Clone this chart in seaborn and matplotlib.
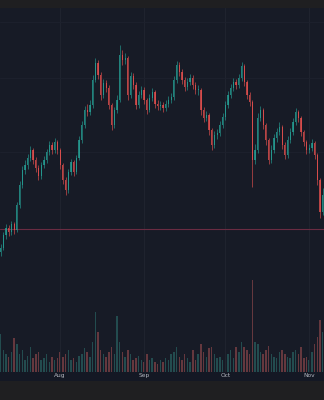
import numpy as np
import pandas as pd
import matplotlib
matplotlib.use("Agg")
import matplotlib.pyplot as plt
import matplotlib.dates as mdates
from matplotlib.patches import Rectangle
import seaborn as sns

# ---------------- data (daily candles) ----------------
start_date = "2023-07-10"
opens = [148, 152, 165, 172, 168, 176, 170, 195, 215, 230, 235, 242, 250, 240, 232, 224, 235, 240, 248, 255,
         250, 258, 250, 235, 220, 210, 228, 238, 228, 242, 260, 275, 290, 288, 295, 320, 337, 325, 305, 317,
         312, 295, 275, 290, 300, 345, 340, 342, 305, 324, 315, 295, 305, 310, 300, 290, 302, 308, 296, 294,
         295, 292, 296, 300, 303, 320, 335, 328, 320, 313, 318, 322, 315, 310, 310, 290, 282, 285, 270, 255,
         265, 267, 275, 283, 295, 305, 312, 318, 315, 322, 334, 318, 305, 298, 240, 250, 282, 290, 275, 260,
         240, 250, 262, 268, 273, 255, 245, 260, 268, 278, 288, 282, 268, 258, 250, 252, 257, 245, 220, 188]
closes = [152, 165, 172, 168, 176, 170, 195, 215, 230, 235, 242, 250, 240, 232, 224, 235, 240, 248, 255, 250,
          258, 250, 235, 220, 210, 228, 238, 228, 242, 260, 275, 290, 288, 295, 320, 337, 325, 305, 317, 312,
          295, 275, 290, 300, 345, 340, 342, 305, 324, 315, 295, 305, 310, 300, 290, 302, 308, 296, 294, 295,
          292, 296, 300, 303, 320, 335, 328, 320, 313, 318, 322, 315, 310, 310, 290, 282, 285, 270, 255, 265,
          267, 275, 283, 295, 305, 312, 318, 315, 322, 334, 318, 305, 298, 240, 250, 282, 290, 275, 260, 240,
          250, 262, 268, 273, 255, 245, 260, 268, 278, 288, 282, 268, 258, 250, 252, 257, 245, 220, 188, 205]
highs = [156, 168, 176, 175, 179, 178, 198, 219, 234, 240, 246, 254, 252, 243, 235, 238, 244, 251, 259, 258,
         262, 260, 252, 237, 223, 231, 241, 240, 245, 264, 279, 294, 296, 300, 325, 342, 340, 328, 321, 320,
         315, 297, 293, 305, 355, 350, 347, 344, 328, 327, 318, 309, 314, 313, 302, 306, 312, 310, 300, 299,
         298, 300, 304, 307, 324, 339, 338, 331, 323, 322, 326, 325, 318, 315, 312, 293, 289, 287, 272, 269,
         271, 279, 287, 299, 309, 316, 322, 321, 326, 338, 336, 320, 308, 300, 256, 287, 294, 292, 277, 262,
         255, 266, 272, 278, 275, 258, 264, 272, 282, 292, 290, 284, 270, 260, 256, 261, 259, 247, 222, 212]
lows = [144, 150, 161, 164, 165, 166, 168, 192, 212, 226, 231, 239, 236, 228, 220, 221, 232, 237, 245, 246,
        247, 246, 231, 216, 205, 207, 225, 224, 226, 240, 257, 272, 284, 285, 292, 318, 321, 300, 302, 308,
        291, 270, 272, 287, 298, 335, 336, 300, 302, 311, 291, 292, 302, 296, 286, 288, 299, 292, 290, 290,
        288, 289, 293, 297, 300, 317, 324, 316, 309, 310, 315, 311, 306, 305, 285, 278, 279, 265, 250, 252,
        261, 264, 272, 280, 292, 302, 309, 311, 312, 319, 314, 301, 294, 213, 236, 247, 279, 271, 255, 236,
        237, 247, 258, 265, 251, 241, 242, 257, 265, 275, 278, 264, 254, 246, 247, 249, 241, 215, 182, 185]
volumes = [38, 22, 18, 15, 20, 34, 28, 18, 22, 12, 16, 25, 14, 18, 20, 12, 14, 18, 10, 15,
           12, 14, 20, 15, 18, 22, 12, 14, 10, 16, 18, 24, 20, 15, 30, 60, 40, 22, 18, 15,
           20, 25, 18, 56, 30, 20, 15, 22, 18, 12, 14, 16, 12, 10, 18, 12, 14, 10, 8, 12,
           10, 14, 12, 18, 20, 25, 15, 12, 18, 14, 10, 22, 12, 18, 28, 20, 15, 24, 25, 18,
           14, 15, 12, 15, 18, 22, 14, 25, 20, 30, 25, 22, 18, 92, 30, 28, 20, 18, 22, 26,
           18, 15, 14, 20, 22, 18, 15, 14, 20, 22, 18, 25, 14, 15, 12, 20, 28, 35, 52, 40]
price_line = 171
grid_prices = [378, 322, 248]

# ---------------- styling ----------------
BG = "#171b26"
OUTER = "#1f1f21"
STRIP = "#141824"
UP = "#26a69a"
DOWN = "#ef5350"
TXT = "#b2b5be"

sns.set_theme(style="dark", rc={"axes.facecolor": BG, "figure.facecolor": OUTER})
plt.rcParams["font.family"] = ["DejaVu Sans"]

dates = pd.date_range(start_date, periods=len(closes), freq="D")
x = mdates.date2num(dates)
df = pd.DataFrame({"x": x, "open": opens, "close": closes, "high": highs,
                   "low": lows, "volume": volumes})
df["dir"] = np.where(df["close"] >= df["open"], "up", "down")

fig = plt.figure(figsize=(3.24, 4.0), dpi=100)
fig.patch.set_facecolor(OUTER)
# label strip under the chart
fig.add_artist(Rectangle((0, 19 / 400), 1, 9 / 400, transform=fig.transFigure,
                         facecolor=STRIP, edgecolor="none", zorder=0))

rect = [0, 28 / 400, 1, 364 / 400]
axv = fig.add_axes(rect)
axv.set_facecolor(BG)
ax = fig.add_axes(rect)
ax.patch.set_visible(False)

xl = (x[0] - 0.22, x[0] + 119.47)

# volume
sns.barplot(data=df, x="x", y="volume", hue="dir", palette={"up": UP, "down": DOWN},
            native_scale=True, dodge=False, width=0.55, legend=False, alpha=0.4,
            linewidth=0, ax=axv)
axv.set_xlim(*xl)
axv.set_ylim(0, 364)
axv.set_xticks([])
axv.set_yticks([])
axv.set_xlabel("")
axv.set_ylabel("")
for s in axv.spines.values():
    s.set_visible(False)

# grid
month_ticks = mdates.date2num(pd.to_datetime(["2023-08-01", "2023-09-01", "2023-10-01", "2023-11-01"]))
for m in month_ticks:
    ax.axvline(m, color="#20242f", lw=0.7, zorder=0)
for gp in grid_prices:
    ax.axhline(gp, color="#1d212d", lw=0.7, zorder=0)
ax.axhline(price_line, color="#6a2c42", lw=0.8, zorder=1)

# candles
colors = [UP if d == "up" else DOWN for d in df["dir"]]
ax.vlines(df["x"], df["low"], df["high"], colors=colors, lw=0.55, alpha=0.75, zorder=2)
body_bottom = np.minimum(df["open"], df["close"])
body_h = np.maximum(np.abs(df["close"] - df["open"]), 0.8)
ax.bar(df["x"], body_h, bottom=body_bottom, width=0.45, color=colors, alpha=0.75,
       linewidth=0, zorder=3)

ax.set_xlim(*xl)
ax.set_ylim(28, 392)
ax.set_yticks([])
ax.set_xticks(month_ticks)
ax.set_xticklabels(["Aug", "Sep", "Oct", "Nov"])
ax.tick_params(axis="x", length=0, pad=0.8, labelsize=4.2, colors=TXT)
ax.grid(False)
for s in ax.spines.values():
    s.set_visible(False)

fig.savefig("out.png", dpi=100, facecolor=OUTER)
